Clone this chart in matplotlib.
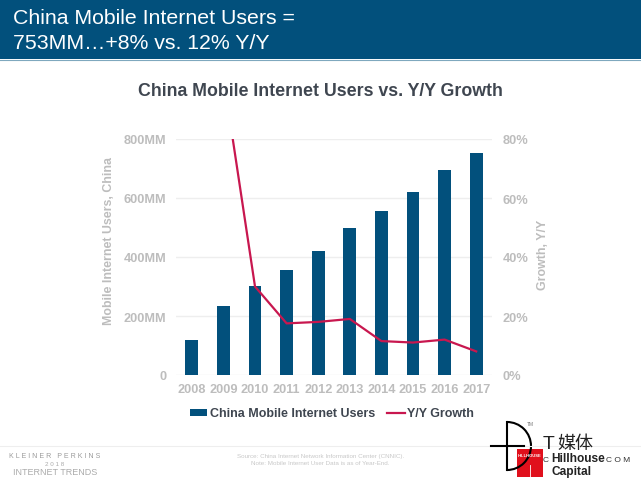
import numpy as np
import matplotlib
matplotlib.use("Agg")
import matplotlib.pyplot as plt
from matplotlib.patches import Rectangle, Arc

plt.rcParams["font.family"] = ["Liberation Sans", "Noto Sans CJK SC", "DejaVu Sans"]

W, H = 641, 481
years = ["2008", "2009", "2010", "2011", "2012", "2013", "2014", "2015", "2016", "2017"]
users = [118, 233, 303, 356, 420, 500, 557, 620, 695, 753]
growth = [np.nan, 101, 30, 17.5, 18, 19, 11.5, 11, 12, 8]
left_ticks = [0, 200, 400, 600, 800]
left_labels = ["0", "200MM", "400MM", "600MM", "800MM"]
right_ticks = [0, 20, 40, 60, 80]
right_labels = ["0%", "20%", "40%", "60%", "80%"]

NAVY = "#02507C"
RED = "#C8174F"
GREY = "#BDBDBD"
DARK = "#3F4650"

fig = plt.figure(figsize=(W / 100, H / 100), dpi=100, facecolor="white")

# page furniture, in pixel coordinates
bg = fig.add_axes([0, 0, 1, 1])
bg.set_xlim(0, W)
bg.set_ylim(H, 0)
bg.axis("off")
bg.add_patch(Rectangle((0, 0), W, 60, color=NAVY, lw=0))
bg.plot([0, W], [60.5, 60.5], color="#7FA8BE", lw=0.8)
bg.text(13, 19, "China Mobile Internet Users =", color="white", fontsize=15.3, va="center")
bg.text(13, 43.5, "753MM…+8% vs. 12% Y/Y", color="white", fontsize=15.3, va="center")
bg.text(320.5, 92, "China Mobile Internet Users vs. Y/Y Growth", color=DARK, fontsize=12.8,
        fontweight="bold", ha="center", va="center")
bg.plot([0, W], [447, 447], color="#EEEEEE", lw=0.8)
bg.text(55, 456.5, "K L E I N E R   P E R K I N S", color="#9A9A9A", fontsize=5, ha="center", va="center")
bg.text(55, 464.5, "2 0 1 8", color="#ABABAB", fontsize=4.5, ha="center", va="center")
bg.text(55, 472.5, "INTERNET TRENDS", color="#ABABAB", fontsize=6.5, ha="center", va="center")
bg.text(320.5, 456.7, "Source: China Internet Network Information Center (CNNIC).", color="#C8C8C8",
        fontsize=4.5, ha="center", va="center")
bg.text(320.5, 463.3, "Note: Mobile Internet User Data is as of Year-End.", color="#C8C8C8",
        fontsize=4.5, ha="center", va="center")

# Hillhouse logo
bg.add_patch(Rectangle((517, 450), 26, 28, color="#E0101C", lw=0))
bg.plot([530, 530], [466, 478], color="white", lw=0.6)
bg.text(530, 456, "HILLHOUSE", color="white", fontsize=3, ha="center", va="center", fontweight="bold")
bg.text(551, 459, "Hillhouse", color="#222222", fontsize=8.6, fontweight="bold", va="center")
bg.text(551, 472, "Capital", color="#222222", fontsize=8.6, fontweight="bold", va="center")

# watermark on top of the logo
bg.plot([491, 524], [447, 447], color="black", lw=1.5)
bg.plot([507, 507], [423, 471], color="black", lw=1.5)
bg.add_patch(Arc((507, 447), 48, 48, theta1=-90, theta2=90, color="black", lw=1.5))
bg.text(530, 425, "TM", color="#777777", fontsize=3.5, ha="center", va="center")
bg.text(543, 445, "T", color="#222222", fontsize=14, ha="left", va="center")
bg.text(557, 445, "媒体", color="#222222", fontsize=13, ha="left", va="center")
bg.text(543, 461, "C", color="#333333", fontsize=6, va="center")
bg.text(606, 461, "C O M", color="#333333", fontsize=6, ha="left", va="center")

# chart
ax = fig.add_axes([176 / W, 1 - 376 / H, 316 / W, 236 / H])
x = np.arange(len(years))
bars = ax.bar(x, users, width=0.40, color=NAVY, zorder=3)
ax.set_xlim(-0.5, 9.5)
ax.set_ylim(0, 800)
ax.set_xticks(x, years)
ax.set_yticks(left_ticks, left_labels)
ax.grid(True, axis="y", color="#EEEEEE", lw=1, zorder=0)
ax.tick_params(length=0, colors=GREY, labelsize=9.2)
ax.tick_params(axis="y", pad=7)
ax.tick_params(axis="x", pad=6)
for lab in ax.get_xticklabels() + ax.get_yticklabels():
    lab.set_fontweight("bold")
for s in ax.spines.values():
    s.set_visible(False)
ax.set_ylabel("Mobile Internet Users, China", color=GREY, fontsize=8.9, fontweight="bold",
              va="center", ha="center")
ax.yaxis.set_label_coords(-0.212, 0.572)

ax2 = ax.twinx()
line, = ax2.plot(x, growth, color=RED, lw=1.6, zorder=5)
ax2.set_ylim(0, 80)
ax2.set_yticks(right_ticks, right_labels)
ax2.tick_params(length=0, colors=GREY, labelsize=9.2, pad=7.5)
for lab in ax2.get_yticklabels():
    lab.set_fontweight("bold")
for s in ax2.spines.values():
    s.set_visible(False)
ax2.set_ylabel("Growth, Y/Y", color=GREY, fontsize=8.9, fontweight="bold",
               va="center", ha="center")
ax2.yaxis.set_label_coords(1.162, 0.515)

fig.legend([bars, line], ["China Mobile Internet Users", "Y/Y Growth"], loc="center",
           bbox_to_anchor=(332 / W, 1 - 414.5 / H), ncol=2, frameon=False,
           prop={"size": 9, "weight": "bold"}, labelcolor=DARK, handlelength=1.4,
           handleheight=0.5, handletextpad=0.2, columnspacing=1.0)

fig.savefig("out.png", dpi=100)
